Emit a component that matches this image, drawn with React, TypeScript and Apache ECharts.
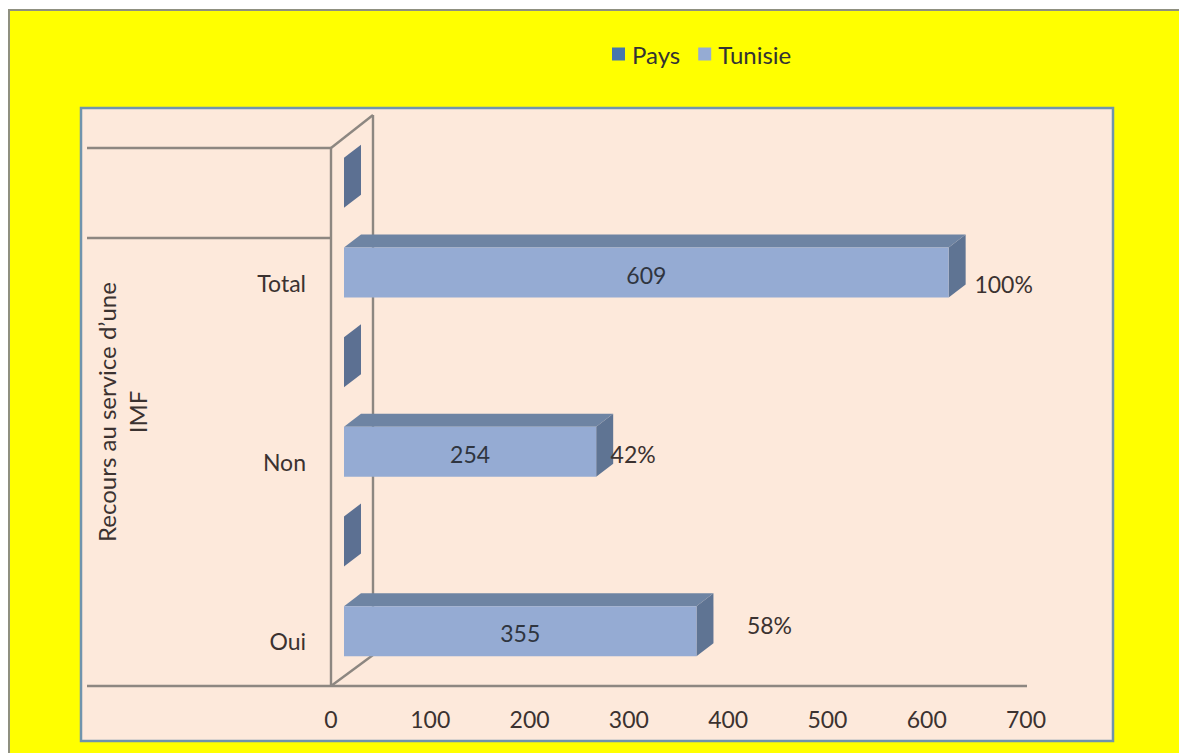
import React, { useEffect, useRef } from "react";
import * as echarts from "echarts";

const categories = ["Oui", "", "Non", "", "Total", ""];
const tunisieValues = [355, null, 254, null, 609, null];
const paysValues = [null, 0, null, 0, null, 0];
const percentLabels = ["58%", "", "42%", "", "100%", ""];
const xTicks = { min: 0, max: 700, interval: 100 };
const axisTitle = "Recours au service d’une\nIMF";

// layout of the hand-placed percentage labels, relative to the bar's front end
const percentOffsets: Record<number, [number, number]> = {
  0: [73, -6],
  2: [37, 2],
  4: [55, 11],
};

const FONT = "Lato, Carlito, 'Open Sans', sans-serif";
const TEXT = "#3b3230";
const LINE = "#8d8781";
const barOffsetX = 13;
const barOffsetY = -10;
const barHalf = 25;
const depthX = 17;
const depthY = -13;

function bar3d(values: (number | null)[], front: string, top: string, side: string, showLabels: boolean) {
  return (params: any, api: any) => {
    const i = params.dataIndex;
    const v = values[i];
    if (v === null || v === undefined) return { type: "group", children: [] };
    const base = api.coord([0, i]);
    const end = api.coord([v, i]);
    const x0 = base[0] + barOffsetX;
    const x1 = end[0] + barOffsetX;
    const yc = base[1] + barOffsetY;
    const y0 = yc - barHalf;
    const y1 = yc + barHalf;
    const children: any[] = [
      {
        type: "polygon",
        shape: { points: [[x1, y0], [x1 + depthX, y0 + depthY], [x1 + depthX, y1 + depthY], [x1, y1]] },
        style: { fill: side },
      },
    ];
    if (v > 0) {
      children.push(
        {
          type: "polygon",
          shape: { points: [[x0, y0], [x0 + depthX, y0 + depthY], [x1 + depthX, y0 + depthY], [x1, y0]] },
          style: { fill: top },
        },
        {
          type: "rect",
          shape: { x: x0, y: y0, width: x1 - x0, height: y1 - y0 },
          style: { fill: front },
        }
      );
    }
    if (showLabels && v > 0) {
      const off = percentOffsets[i] || [30, 0];
      children.push(
        {
          type: "text",
          style: {
            text: String(v),
            x: (x0 + x1) / 2,
            y: yc + 2,
            fill: "#2f3540",
            font: `23px ${FONT}`,
            textAlign: "center",
            textVerticalAlign: "middle",
          },
        },
        {
          type: "text",
          style: {
            text: percentLabels[i],
            x: x1 + off[0],
            y: yc + off[1],
            fill: TEXT,
            font: `23px ${FONT}`,
            textAlign: "center",
            textVerticalAlign: "middle",
          },
        }
      );
    }
    return { type: "group", children };
  };
}

const line = (x1: number, y1: number, x2: number, y2: number) => ({
  type: "line",
  z: 1,
  shape: { x1, y1, x2, y2 },
  style: { stroke: LINE, lineWidth: 2.4 },
});

export default function App() {
  const ref = useRef<HTMLDivElement>(null);
  useEffect(() => {
    const chart = echarts.init(ref.current!, undefined, { renderer: "svg" });
    chart.setOption({
      animation: false,
      backgroundColor: "#ffffff",
      textStyle: { fontFamily: FONT },
      legend: {
        data: ["Pays", "Tunisie"],
        left: 612,
        top: 42,
        padding: 0,
        itemWidth: 13,
        itemHeight: 13,
        itemGap: 18,
        icon: "rect",
        textStyle: { fontFamily: FONT, fontSize: 24, color: "#333", padding: [0, 0, 0, 2] },
      },
      grid: { left: 331, top: 148, width: 695, height: 538 },
      xAxis: {
        type: "value",
        min: xTicks.min,
        max: xTicks.max,
        interval: xTicks.interval,
        splitLine: { show: false },
        axisLine: { show: false },
        axisTick: { show: false },
        axisLabel: { margin: 21, color: TEXT, fontSize: 23, fontFamily: FONT, showMaxLabel: true, showMinLabel: true },
      },
      yAxis: {
        type: "category",
        data: categories,
        axisLine: { show: false },
        axisTick: { show: false },
        axisLabel: { margin: 25, color: TEXT, fontSize: 23, fontFamily: FONT, interval: 0 },
      },
      graphic: {
        elements: [
          {
            type: "rect",
            z: 0,
            shape: { x: 9, y: 10, width: 1180, height: 753 },
            style: { fill: "#ffff00", stroke: "#8f9080", lineWidth: 2 },
          },
          {
            type: "rect",
            z: 0,
            shape: { x: 81, y: 108, width: 1032, height: 633 },
            style: { fill: "#fde9db", stroke: "#6f94ad", lineWidth: 2.5 },
          },
          line(87, 148, 331, 148),
          line(87, 238, 331, 238),
          line(87, 686, 1027, 686),
          line(331, 148, 331, 686),
          line(331, 148, 373, 115),
          line(373, 115, 373, 655),
          line(331, 686, 373, 655),
          {
            type: "text",
            z: 1,
            x: 122,
            y: 412,
            rotation: Math.PI / 2,
            style: {
              text: axisTitle,
              fill: TEXT,
              font: `24px ${FONT}`,
              textAlign: "center",
              textVerticalAlign: "middle",
              lineHeight: 31,
            },
          },
        ],
      },
      series: [
        {
          type: "custom",
          name: "Pays",
          coordinateSystem: "cartesian2d",
          itemStyle: { color: "#4677ad" },
          data: paysValues.map((v, i) => [v ?? 0, i]),
          encode: { x: 0, y: 1 },
          renderItem: bar3d(paysValues, "#4677ad", "#5c7092", "#5c7092", false),
        },
        {
          type: "custom",
          name: "Tunisie",
          coordinateSystem: "cartesian2d",
          itemStyle: { color: "#95abd3" },
          data: tunisieValues.map((v, i) => [v ?? 0, i]),
          encode: { x: 0, y: 1 },
          renderItem: bar3d(tunisieValues, "#95abd3", "#6e84a3", "#5f7493", true),
        },
      ],
    });
    return () => chart.dispose();
  }, []);
  return <div ref={ref} style={{ position: "absolute", left: 0, top: 0, width: 1179, height: 753 }} />;
}
